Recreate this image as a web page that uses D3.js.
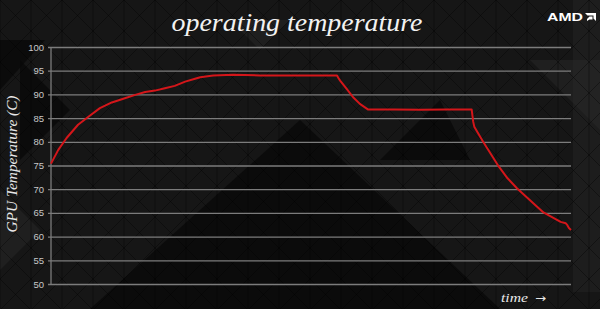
<!DOCTYPE html>
<meta charset="utf-8" />
<style>
  body { margin: 0; background: #151515; }
  svg { display: block; }
</style>
<svg width="600" height="309"></svg>
<script src="https://d3js.org/d3.v7.min.js"></script>
<script>
    // data (time is arbitrary, 0..100)
    var timeIdx = [0, 1.4, 3, 5.2, 7.2, 9.4, 11.7, 14.2, 16.2, 18.1, 20, 21.9, 23.8, 25.8, 27.7, 28.7, 31.2, 35, 40.2, 48, 55,
        55.3, 55.6, 56.9, 58.1, 59.4, 61, 66, 71, 76, 80.9,
        81.2, 81.4, 83.1, 86.1, 87.8, 89.6, 92.8, 94.7, 96.7, 98, 99, 99.3, 99.6, 100];
    var tempC = [75.4, 78.3, 80.8, 83.6, 85.3, 87.1, 88.3, 89.2, 89.9, 90.5, 90.8, 91.3, 91.8, 92.7, 93.3, 93.6, 94.0, 94.15, 94.0, 94.0, 94.0,
        93.4, 92.9, 91.1, 89.4, 88.0, 86.8, 86.8, 86.75, 86.8, 86.8,
        84.2, 83.2, 80.0, 74.8, 72.3, 70.2, 67.0, 65.1, 63.9, 63.1, 62.8, 62.4, 61.8, 61.4];
    var yTicks = [50, 55, 60, 65, 70, 75, 80, 85, 90, 95, 100];

    var svg = d3.select("svg");
    var width = +svg.attr("width");
    var height = +svg.attr("height");

    // --- background: dark with faint triangle pattern
    var bg = svg.append("g");
    bg.append("rect").attr("width", width).attr("height", height).attr("fill", "#161616");

    var darkTris = [
        [[90, 309], [300, 120], [500, 309]],
        [[0, 40], [45, 40], [0, 90]],
        [[20, 60], [70, 110], [20, 160]],
        [[380, 160], [440, 100], [470, 160]]
    ];
    var lightTris = [
        [[530, 60], [600, 60], [600, 130]],
        [[230, 20], [290, 20], [260, 50]],
        [[0, 190], [40, 230], [0, 270]]
    ];
    bg.selectAll(".dk").data(darkTris).enter().append("path")
        .attr("d", d => "M" + d.join("L") + "Z")
        .attr("fill", "#070707").attr("opacity", 0.7);
    bg.selectAll(".lt").data(lightTris).enter().append("path")
        .attr("d", d => "M" + d.join("L") + "Z")
        .attr("fill", "#262626").attr("opacity", 0.6);
    bg.append("rect").attr("x", 573).attr("y", 0).attr("width", 27).attr("height", 292)
        .attr("fill", "#2a2a2a").attr("opacity", 0.35);

    var step = 31;
    var hatch = [];
    for (var i = -12; i < 32; i++) {
        hatch.push([i * step, 0, i * step + height, height]);
        hatch.push([i * step, 0, i * step - height, height]);
    }
    for (var j = 0; j < 21; j++) hatch.push([j * step, 0, j * step, height]);
    bg.selectAll(".h").data(hatch).enter().append("line")
        .attr("x1", d => d[0]).attr("y1", d => d[1])
        .attr("x2", d => d[2]).attr("y2", d => d[3])
        .attr("stroke", "#000").attr("stroke-opacity", 0.35).attr("stroke-width", 1);

    // --- scales
    var x = d3.scaleLinear().domain([0, 100]).range([51, 571]);
    var y = d3.scaleLinear().domain([50, 100]).range([284, 47]);

    // gridlines + tick labels
    var yAxis = d3.axisLeft(y).tickValues(yTicks).tickSize(-523).tickPadding(4);
    var ga = svg.append("g").attr("transform", "translate(48,0)").call(yAxis);
    ga.select(".domain").remove();
    ga.selectAll("line").attr("stroke", "#7c7c7c").attr("stroke-width", 1.3);
    ga.selectAll("text")
        .attr("fill", "#c8c8c8")
        .style("font-family", "'Liberation Sans', Arial, sans-serif")
        .style("font-size", "9.5px");

    svg.append("line")
        .attr("x1", x(0)).attr("x2", x(0))
        .attr("y1", y(100)).attr("y2", y(50))
        .attr("stroke", "#7c7c7c").attr("stroke-width", 1.3);

    // temperature line
    var pts = timeIdx.map((t, k) => [t, tempC[k]]);
    svg.append("path")
        .datum(pts)
        .attr("fill", "none")
        .attr("stroke", "#d4161a")
        .attr("stroke-width", 2)
        .attr("stroke-linejoin", "round")
        .attr("d", d3.line().x(d => x(d[0])).y(d => y(d[1])));

    // texts
    svg.append("text")
        .attr("x", 297).attr("y", 31)
        .attr("text-anchor", "middle")
        .attr("textLength", 251).attr("lengthAdjust", "spacingAndGlyphs")
        .attr("fill", "#f2f2f2")
        .style("font-family", "'Liberation Serif', 'DejaVu Serif', serif")
        .style("font-style", "italic")
        .style("font-size", "25px")
        .text("operating temperature");

    svg.append("text")
        .attr("transform", "translate(17,164) rotate(-90)")
        .attr("text-anchor", "middle")
        .attr("textLength", 137).attr("lengthAdjust", "spacingAndGlyphs")
        .attr("fill", "#e8e8e8")
        .style("font-family", "'Liberation Serif', 'DejaVu Serif', serif")
        .style("font-style", "italic")
        .style("font-size", "14px")
        .text("GPU Temperature (C)");

    svg.append("text")
        .attr("x", 501).attr("y", 302)
        .attr("textLength", 27).attr("lengthAdjust", "spacingAndGlyphs")
        .attr("fill", "#e8e8e8")
        .style("font-family", "'Liberation Serif', 'DejaVu Serif', serif")
        .style("font-style", "italic")
        .style("font-size", "13.5px")
        .text("time");
    svg.append("text")
        .attr("x", 535).attr("y", 302)
        .attr("textLength", 11).attr("lengthAdjust", "spacingAndGlyphs")
        .attr("fill", "#e8e8e8")
        .style("font-family", "'DejaVu Sans', sans-serif")
        .style("font-size", "11px")
        .text("\u2192");

    // AMD logo
    svg.append("text")
        .attr("x", 547).attr("y", 21)
        .attr("textLength", 36).attr("lengthAdjust", "spacingAndGlyphs")
        .attr("fill", "#fff")
        .style("font-family", "'Liberation Sans', Arial, sans-serif")
        .style("font-weight", "bold")
        .style("font-size", "11px")
        .text("AMD");
    svg.append("path")
        .attr("d", "M585,13 L596,13 L596,21 L593.5,18.5 L593.5,15.5 L587.5,15.5 Z M589.5,16.5 L592.5,16.5 L592.5,19.5 L589.5,19.5 L587,21 L587,19 Z")
        .attr("fill", "#fff");
</script>
